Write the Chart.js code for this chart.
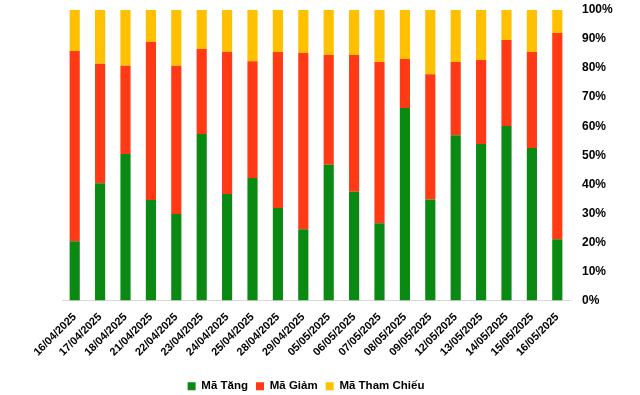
<!DOCTYPE html>
<html>
<head>
<meta charset="utf-8">
<script src="https://cdn.jsdelivr.net/npm/chart.js@4"></script>
<style>
  html, body { margin: 0; padding: 0; background: #ffffff; }
  #khung { width: 640px; height: 395px; }
</style>
</head>
<body>
<div id="khung"><canvas id="bieu_do"></canvas></div>
<script>
// Ngày giao dịch
let ngay = ['16/04/2025', '17/04/2025', '18/04/2025', '21/04/2025', '22/04/2025',
    '23/04/2025', '24/04/2025', '25/04/2025', '28/04/2025', '29/04/2025',
    '05/05/2025', '06/05/2025', '07/05/2025', '08/05/2025', '09/05/2025',
    '12/05/2025', '13/05/2025', '14/05/2025', '15/05/2025', '16/05/2025']

// Tỷ lệ (%) mã tăng / giảm / tham chiếu
let maTang = [20.4, 40.4, 50.4, 34.6, 29.8, 57.3, 36.7, 42.2, 31.8, 24.5,
    46.7, 37.4, 26.6, 66.3, 34.8, 56.9, 53.9, 60.1, 52.5, 21.1]
let maGiam = [65.5, 41.1, 30.4, 54.4, 51.0, 29.3, 48.8, 40.2, 53.7, 60.7,
    37.8, 47.1, 55.5, 16.8, 43.1, 25.2, 28.9, 29.6, 33.0, 71.0]
let maThamChieu = [14.1, 18.5, 19.2, 11.0, 19.2, 13.4, 14.5, 17.6, 14.5, 14.8,
    15.5, 15.5, 17.9, 16.9, 22.1, 17.9, 17.2, 10.3, 14.5, 7.9]

let mocTrucY = [0, 10, 20, 30, 40, 50, 60, 70, 80, 90, 100]

let fonte = 'Arial, "Liberation Sans", sans-serif'

// dời chú thích xuống dưới và sang trái một chút
const doiChuThich = {
    id: 'doiChuThich',
    afterLayout(chart) {
        let lg = chart.legend
        lg.top += 7
        lg.bottom += 7
        lg.left -= 45
        lg.right -= 45
    },
}

let ctx = document.getElementById('bieu_do')

const chart = new Chart(ctx, {
    type: 'bar',
    data: {
        labels: ngay,
        datasets: [
            { label: 'Mã Tăng', data: maTang, backgroundColor: '#0A8A12' },
            { label: 'Mã Giảm', data: maGiam, backgroundColor: '#FF3A14' },
            { label: 'Mã Tham Chiếu', data: maThamChieu, backgroundColor: '#FFC000' },
        ],
    },
    options: {
        responsive: true,
        maintainAspectRatio: false,
        animation: false,
        datasets: {
            bar: { barPercentage: 0.4, categoryPercentage: 1 },
        },
        layout: {
            padding: { left: 62, right: 0, top: 10, bottom: 0 },
        },
        scales: {
            x: {
                stacked: true,
                grid: { display: false },
                border: { color: '#D9D9D9', width: 1 },
                ticks: {
                    autoSkip: false,
                    minRotation: 45,
                    maxRotation: 45,
                    padding: 2,
                    color: '#000000',
                    font: { family: fonte, size: 11, weight: 'bold' },
                },
                afterFit: (scale) => { scale.height = 65 },
            },
            y: {
                stacked: true,
                position: 'right',
                min: 0,
                max: 100,
                grid: { display: false, drawTicks: true, tickLength: 12 },
                border: { display: false },
                afterBuildTicks: (scale) => {
                    scale.ticks = mocTrucY.map(v => ({ value: v }))
                },
                ticks: {
                    padding: 0,
                    color: '#000000',
                    font: { family: fonte, size: 12, weight: 'bold' },
                    callback: (v) => v + '%',
                },
                afterFit: (scale) => { scale.width = 70 },
            },
        },
        plugins: {
            legend: {
                position: 'bottom',
                labels: {
                    boxWidth: 8,
                    boxHeight: 8,
                    padding: 8,
                    color: '#000000',
                    font: { family: fonte, size: 11.5, weight: 'bold' },
                },
            },
            tooltip: { enabled: false },
        },
    },
    plugins: [doiChuThich],
})

chart.update()
</script>
</body>
</html>
